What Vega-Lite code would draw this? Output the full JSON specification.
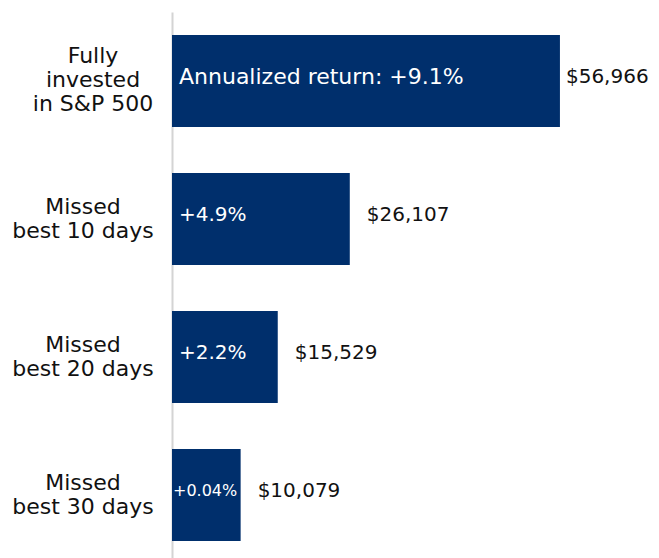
{
  "$schema": "https://vega.github.io/schema/vega-lite/v6.json",
  "autosize": {"type": "none"},
  "padding": {"left": 172, "top": 12, "right": 0, "bottom": 0},
  "width": 487,
  "height": 552,
  "background": "white",
  "config": {"view": {"stroke": null}, "font": "DejaVu Sans"},
  "data": {"values": [
    {"cat": "Fully|invested|in S&P 500", "value": 56966, "ret": "Annualized return: +9.1%", "lab": "$56,966"},
    {"cat": "Missed|best 10 days", "value": 26107, "ret": "+4.9%", "lab": "$26,107"},
    {"cat": "Missed|best 20 days", "value": 15529, "ret": "+2.2%", "lab": "$15,529"},
    {"cat": "Missed|best 30 days", "value": 10079, "ret": "+0.04%", "lab": "$10,079"}
  ]},
  "encoding": {
    "y": {"field": "cat", "type": "nominal", "sort": null,
      "scale": {"paddingInner": 0.3333, "paddingOuter": 0.1667},
      "axis": {"title": null, "ticks": false, "labels": false, "domainColor": "#d4d4d4", "domainWidth": 2}},
    "x": {"field": "value", "type": "quantitative", "scale": {"domain": [0, 71512]}, "axis": null}
  },
  "layer": [
    {"mark": {"type": "bar", "color": "#002f6c"}},
    {"transform": [{"filter": "datum.value > 50000"}],
      "mark": {"type": "text", "align": "center", "baseline": "middle", "color": "#111111", "fontSize": 22, "lineHeight": 24, "lineBreak": "|", "dy": -25},
      "encoding": {"x": {"datum": -11600}, "text": {"field": "cat"}}},
    {"transform": [{"filter": "datum.value < 50000"}],
      "mark": {"type": "text", "align": "center", "baseline": "middle", "color": "#111111", "fontSize": 22, "lineHeight": 24, "lineBreak": "|", "dy": -12},
      "encoding": {"x": {"datum": -13070}, "text": {"field": "cat"}}},
    {"transform": [{"filter": "datum.value > 50000"}],
      "mark": {"type": "text", "align": "left", "baseline": "middle", "color": "white", "dx": 7, "dy": -4, "fontSize": 22},
      "encoding": {"x": {"datum": 0}, "text": {"field": "ret"}}},
    {"transform": [{"filter": "datum.value < 50000 && datum.ret !== '+0.04%'"}],
      "mark": {"type": "text", "align": "left", "baseline": "middle", "color": "white", "dx": 7, "dy": -4, "fontSize": 20},
      "encoding": {"x": {"datum": 0}, "text": {"field": "ret"}}},
    {"transform": [{"filter": "datum.ret === '+0.04%'"}],
      "mark": {"type": "text", "align": "left", "baseline": "middle", "color": "white", "dx": 1, "dy": -4, "fontSize": 16},
      "encoding": {"x": {"datum": 0}, "text": {"field": "ret"}}},
    {"transform": [{"filter": "datum.value > 50000"}],
      "mark": {"type": "text", "align": "left", "baseline": "middle", "color": "#111111", "dx": 6, "dy": -4, "fontSize": 20},
      "encoding": {"text": {"field": "lab"}}},
    {"transform": [{"filter": "datum.value < 50000"}],
      "mark": {"type": "text", "align": "left", "baseline": "middle", "color": "#111111", "dx": 17, "dy": -4, "fontSize": 20},
      "encoding": {"text": {"field": "lab"}}}
  ]
}
